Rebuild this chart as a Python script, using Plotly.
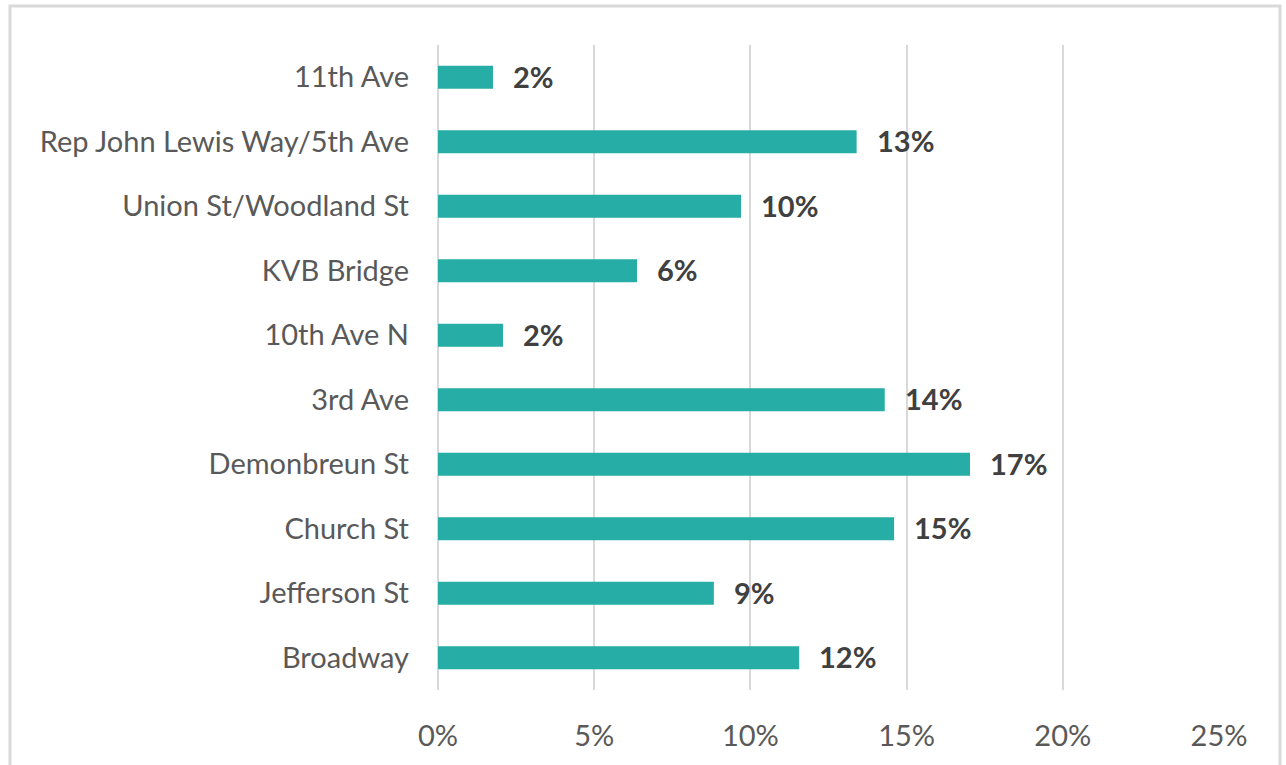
import plotly.graph_objects as go

categories = ["11th Ave", "Rep John Lewis Way/5th Ave", "Union St/Woodland St", "KVB Bridge",
              "10th Ave N", "3rd Ave", "Demonbreun St", "Church St", "Jefferson St", "Broadway"]
values = [1.76, 13.4, 9.7, 6.37, 2.08, 14.3, 17.03, 14.6, 8.83, 11.56]
labels = ["2%", "13%", "10%", "6%", "2%", "14%", "17%", "15%", "9%", "12%"]
tick_vals = [0, 5, 10, 15, 20, 25]
tick_text = ["0%", "5%", "10%", "15%", "20%", "25%"]

FONT = "Lato"
FS = 29

fig = go.Figure()
fig.add_trace(go.Bar(
    y=categories, x=values, orientation="h",
    marker=dict(color="#26ADA5", line=dict(width=0)),
    width=0.36, hoverinfo="skip",
))

for c, v, t in zip(categories, values, labels):
    fig.add_annotation(x=v, y=c, text="<b>" + t + "</b>", showarrow=False,
                       xanchor="left", yanchor="middle", xshift=18, yshift=1,
                       font=dict(family=FONT, size=FS, color="#404040"))

fig.add_shape(type="rect", xref="paper", yref="paper",
              x0=(10 - 438) / 781, x1=(1280 - 438) / 781,
              y0=-0.3, y1=(690 - 5) / 646,
              line=dict(color="#D9D9D9", width=3), fillcolor="rgba(0,0,0,0)", layer="below")

fig.update_layout(
    width=1286, height=765,
    margin=dict(l=438, r=67, t=45, b=75),
    paper_bgcolor="white", plot_bgcolor="white",
    showlegend=False,
    font=dict(family=FONT, size=FS, color="#595959"),
    xaxis=dict(range=[0, 25], tickvals=tick_vals, ticktext=tick_text,
               showgrid=True, gridcolor="#D9D9D9", gridwidth=2,
               zeroline=True, zerolinecolor="#D9D9D9", zerolinewidth=2,
               showline=False, ticks="", ticklabelstandoff=26,
               tickfont=dict(family=FONT, size=FS, color="#595959"), fixedrange=True),
    yaxis=dict(categoryorder="array", categoryarray=categories[::-1],
               showgrid=False, showline=False, ticks="", ticklabelstandoff=28,
               tickfont=dict(family=FONT, size=FS, color="#595959"), fixedrange=True),
)

fig.write_html("out.html", config={"displayModeBar": False},
               post_script="document.body.style.margin='0';document.body.style.overflow='hidden';")
